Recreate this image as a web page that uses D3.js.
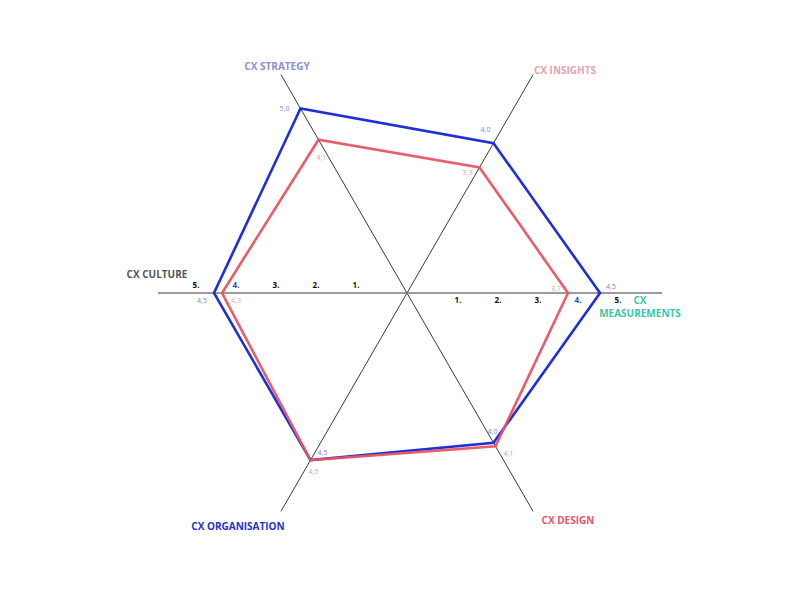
<!DOCTYPE html>
<html>
<head>
<meta charset="utf-8">
<script src="https://cdn.jsdelivr.net/npm/d3@7"></script>
<style>
  body { margin: 0; background: #fff; }
  svg text { font-family: 'Open Sans', sans-serif; }
</style>
</head>
<body>
<div id="chart"></div>
<script>
// axes, counter-clockwise from the right
var axes = ['CX MEASUREMENTS', 'CX INSIGHTS', 'CX STRATEGY', 'CX CULTURE', 'CX ORGANISATION', 'CX DESIGN'];
var axisColors = ['#3cc7a6', '#e9a3ab', '#8a8fd8', '#555555', '#2432c8', '#e8566a'];
var blueValues = [4.5, 4.0, 5.0, 4.5, 4.5, 4.0];
var redValues = [3.7, 3.3, 4.1, 4.3, 4.5, 4.1];
var tickValues = [1, 2, 3, 4, 5];

var W = 800, H = 599, CX = 407, CY = 293;
var BLUE = '#1e2ed8', RED = '#e8545f';
var BLUE_TXT = '#8086d6', RED_TXT = '#eb97a0';

var svg = d3.select('#chart').append('svg').attr('width', W).attr('height', H);

var r = d3.scaleLinear().domain([0, 5]).range([13, 213]);
var angle = d3.scaleLinear().domain([0, axes.length]).range([0, 2 * Math.PI]);

function pt(i, v) {
  var a = angle(i);
  return [CX + r(v) * Math.cos(a), CY - r(v) * Math.sin(a)];
}
function fmt(v) { return d3.format('.1f')(v).replace('.', ','); }

// diagonal axes (through centre)
[1, 2].forEach(function (i) {
  var a = pt(i, 5.98), b = pt(i + 3, 5.98);
  svg.append('line').attr('x1', a[0]).attr('y1', a[1]).attr('x2', b[0]).attr('y2', b[1])
    .attr('stroke', '#3a3a3a').attr('stroke-width', 1);
});
// horizontal axis
var ha = pt(0, 6.05), hb = pt(3, 5.9);
svg.append('line').attr('x1', ha[0]).attr('y1', ha[1]).attr('x2', hb[0]).attr('y2', hb[1])
  .attr('stroke', '#7a7a7a').attr('stroke-width', 1.6);

// tick labels on the horizontal axis
tickValues.forEach(function (t) {
  var col = t === 4 ? '#3340c8' : '#111';
  svg.append('text').text(t + '.').attr('x', pt(0, t)[0] - 2).attr('y', CY + 10)
    .attr('text-anchor', 'middle').style('font-size', '8px').style('font-weight', 700).attr('fill', col);
  svg.append('text').text(t + '.').attr('x', pt(3, t)[0] + 2).attr('y', CY - 5)
    .attr('text-anchor', 'middle').style('font-size', '8px').style('font-weight', 700).attr('fill', col);
});

var line = d3.line().curve(d3.curveLinearClosed);

svg.append('path').attr('d', line(blueValues.map(function (v, i) { return pt(i, v); })))
  .attr('fill', 'none').attr('stroke', BLUE).attr('stroke-width', 2.6).attr('stroke-linejoin', 'miter');
svg.append('path').attr('d', line(redValues.map(function (v, i) { return pt(i, v); })))
  .attr('fill', 'none').attr('stroke', RED).attr('stroke-width', 2.6).attr('stroke-linejoin', 'miter')
  .attr('stroke-opacity', 0.95);

// value label offsets [dx, dy] per axis
var blueOff = [[11, -7], [-8, -14], [-16, -1], [-12, 7], [12, -8], [-1, -12]];
var redOff = [[-12, -5], [-12, 5], [3, 17], [14, 7], [3, 11], [13, 7]];

blueValues.forEach(function (v, i) {
  var p = pt(i, v);
  svg.append('text').text(fmt(v)).attr('x', p[0] + blueOff[i][0]).attr('y', p[1] + blueOff[i][1] + 3)
    .attr('text-anchor', 'middle').style('font-size', '7px').style('font-weight', 400).attr('fill', BLUE_TXT);
});
redValues.forEach(function (v, i) {
  var p = pt(i, v);
  svg.append('text').text(fmt(v)).attr('x', p[0] + redOff[i][0]).attr('y', p[1] + redOff[i][1] + 3)
    .attr('text-anchor', 'middle').style('font-size', '7px').style('font-weight', 400).attr('fill', RED_TXT);
});

// axis titles
var titlePos = [[640, 304], [565, 74], [277, 70], [157, 278], [238, 530], [568, 524]];
axes.forEach(function (name, i) {
  var lines = name === 'CX MEASUREMENTS' ? ['CX', 'MEASUREMENTS'] : [name];
  lines.forEach(function (s, k) {
    svg.append('text').text(s).attr('x', titlePos[i][0]).attr('y', titlePos[i][1] + k * 13)
      .attr('text-anchor', 'middle').style('font-size', '10px').style('font-weight', 700)
      .attr('fill', axisColors[i]);
  });
});
</script>
</body>
</html>
